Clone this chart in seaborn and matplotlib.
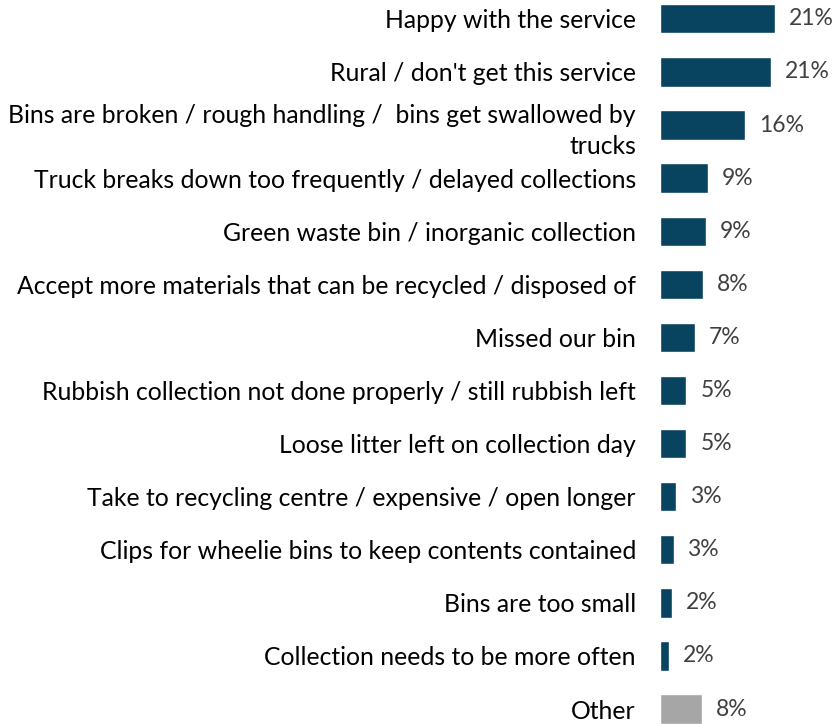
import matplotlib
matplotlib.use("Agg")
import matplotlib.pyplot as plt
import seaborn as sns
import pandas as pd

categories = [
    "Happy with the service",
    "Rural / don't get this service",
    "Bins are broken / rough handling /  bins get swallowed by\ntrucks",
    "Truck breaks down too frequently / delayed collections",
    "Green waste bin / inorganic collection",
    "Accept more materials that can be recycled / disposed of",
    "Missed our bin",
    "Rubbish collection not done properly / still rubbish left",
    "Loose litter left on collection day",
    "Take to recycling centre / expensive / open longer",
    "Clips for wheelie bins to keep contents contained",
    "Bins are too small",
    "Collection needs to be more often",
    "Other",
]
values = [21.4, 20.6, 15.9, 9.0, 8.6, 8.0, 6.6, 5.0, 5.0, 3.1, 2.6, 2.3, 1.7, 7.9]
labels = ["21%", "21%", "16%", "9%", "9%", "8%", "7%", "5%", "5%", "3%", "3%", "2%", "2%", "8%"]
colors = ["#08435f"] * 13 + ["#a6a6a6"]

sns.set_theme(style="white")
plt.rcParams["font.family"] = ["Lato", "DejaVu Sans"]

df = pd.DataFrame({"cat": categories, "val": values})

fig = plt.figure(figsize=(8.32, 7.24), dpi=100)
ax = fig.add_axes([659.5 / 832, 0, 172.5 / 832, 1])
sns.barplot(data=df, x="val", y="cat", hue="cat", palette=colors, legend=False,
            width=0.55, ax=ax, saturation=1)
ax.set_xlim(0, 172.5 / 5.39)
ax.set_ylim((724 - 18.8) / 53.1, -18.8 / 53.1)
for c, lab in zip(ax.containers, labels):
    ax.bar_label(c, labels=[lab], padding=10, color="#404040", fontsize=16.5)
ax.set_xlabel("")
ax.set_ylabel("")
ax.set_xticks([])
ax.tick_params(axis="y", length=0, pad=17.0, labelsize=17.8, labelcolor="#000000")
for t in ax.get_yticklabels():
    t.set_linespacing(1.4)
for s in ax.spines.values():
    s.set_visible(False)
fig.savefig("out.png", dpi=100)
